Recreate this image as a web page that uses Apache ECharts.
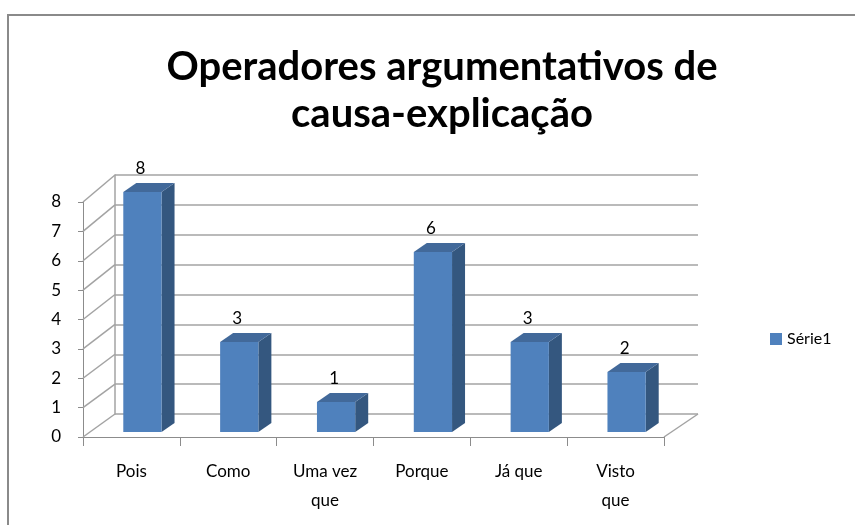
<!DOCTYPE html>
<html>
<head>
<meta charset="utf-8">
<script src="https://cdn.jsdelivr.net/npm/echarts@6/dist/echarts.min.js"></script>
<style>html,body{margin:0;padding:0;background:#fff;}#c{width:855px;height:525px;}</style>
</head>
<body>
<div id="c"></div>
<script>
const titleLines = ['Operadores argumentativos de', 'causa-explicação'];
const categories = ['Pois', 'Como', 'Uma vez\nque', 'Porque', 'Já que', 'Visto\nque'];
const values = [8, 3, 1, 6, 3, 2];
const seriesName = 'Série1';
const yMin = 0, yMax = 8, yStep = 1;

const FONT = 'Lato, "Open Sans", sans-serif';
const GRID_LINE = '#a3a3a3';
const AXIS_LINE = '#8c8c8c';
const FRONT = '#4F81BD', SIDE = '#34577F', TOP = '#42699A';
const DEPTH = [13, -9];

const chart = echarts.init(document.getElementById('c'), null, {renderer: 'canvas'});

const hiddenX = (gi) => ({type: 'category', gridIndex: gi, data: categories, show: false});
const hiddenY = (gi) => ({type: 'value', gridIndex: gi, min: yMin, max: yMax, interval: yStep, show: false});

const option = {
  animation: false,
  backgroundColor: '#fff',
  title: {
    text: titleLines.join('\n'),
    left: 437, top: 39, textAlign: 'center',
    textStyle: {fontFamily: FONT, fontWeight: 'bold', fontSize: 40, lineHeight: 47, color: '#000'}
  },
  legend: {
    data: [seriesName], left: 765, top: 326, icon: 'rect', itemWidth: 12, itemHeight: 12, itemGap: 5,
    textStyle: {fontFamily: FONT, fontSize: 16, color: '#000'}
  },
  grid: [
    {left: 83, top: 202, width: 581, height: 235},   // front plane (axes)
    {left: 115, top: 175, width: 583, height: 239},  // back wall
    {left: 94, top: 192, width: 581, height: 240}    // bar front plane
  ],
  xAxis: [
    {
      type: 'category', gridIndex: 0, data: categories,
      axisLine: {lineStyle: {color: AXIS_LINE, width: 1}},
      axisTick: {show: true, length: 9, lineStyle: {color: AXIS_LINE}},
      axisLabel: {fontFamily: FONT, fontSize: 17, color: '#000', margin: 20, lineHeight: 29, interval: 0}
    },
    {
      type: 'category', gridIndex: 1, data: categories,
      axisLine: {show: false}, axisTick: {show: false}, axisLabel: {show: false}
    },
    hiddenX(2)
  ],
  yAxis: [
    {
      type: 'value', gridIndex: 0, min: yMin, max: yMax, interval: yStep,
      axisLine: {show: true, lineStyle: {color: AXIS_LINE, width: 1}},
      axisTick: {show: true, length: 5, lineStyle: {color: AXIS_LINE}},
      splitLine: {show: false},
      axisLabel: {fontFamily: FONT, fontSize: 17, color: '#000', margin: 22}
    },
    {
      type: 'value', gridIndex: 1, min: yMin, max: yMax, interval: yStep,
      axisLine: {show: true, lineStyle: {color: GRID_LINE, width: 1.5}},
      axisTick: {show: false}, axisLabel: {show: false},
      splitLine: {show: true, lineStyle: {color: GRID_LINE, width: 1.5}}
    },
    hiddenY(2)
  ],
  series: [{
    name: seriesName,
    type: 'custom',
    xAxisIndex: 2, yAxisIndex: 2,
    itemStyle: {color: FRONT},
    data: values.map((v, i) => [i, v]),
    renderItem: function (params, api) {
      const i = api.value(0), v = api.value(1);
      const base = api.coord([i, 0]);
      const top = api.coord([i, v]);
      const band = api.size([1, 0])[0];
      const w = band * 0.395;
      const x0 = base[0] - w / 2, x1 = base[0] + w / 2;
      const yb = base[1], yt = top[1];
      const dx = DEPTH[0], dy = DEPTH[1];
      return {
        type: 'group',
        children: [
          {type: 'polygon', shape: {points: [[x1, yt], [x1 + dx, yt + dy], [x1 + dx, yb + dy], [x1, yb]]}, style: {fill: SIDE}},
          {type: 'polygon', shape: {points: [[x0, yt], [x0 + dx, yt + dy], [x1 + dx, yt + dy], [x1, yt]]}, style: {fill: TOP}},
          {type: 'rect', shape: {x: x0, y: yt, width: w, height: yb - yt}, style: {fill: FRONT}},
          {type: 'text', style: {text: String(v), x: base[0] - 2, y: yt + dy - 14, textAlign: 'center', textVerticalAlign: 'middle',
            font: '17px ' + FONT, fill: '#000'}}
        ]
      };
    }
  }]
};
chart.setOption(option);

// Side wall / floor edges connecting the front axes to the back wall, via the axes' own scales
const lines = [];
function leftEdge(gi, val) {
  const a = chart.convertToPixel({gridIndex: gi}, [0, val]);
  const b = chart.convertToPixel({gridIndex: gi}, [1, val]);
  return [a[0] - (b[0] - a[0]) / 2, a[1]];
}
function rightEdge(gi, val) {
  const n = categories.length;
  const a = chart.convertToPixel({gridIndex: gi}, [n - 1, val]);
  const b = chart.convertToPixel({gridIndex: gi}, [n - 2, val]);
  return [a[0] + (a[0] - b[0]) / 2, a[1]];
}
for (let v = yMin; v <= yMax; v += yStep) {
  const f = leftEdge(0, v), b = leftEdge(1, v);
  lines.push({type: 'line', shape: {x1: f[0], y1: f[1], x2: b[0], y2: b[1]}, style: {stroke: GRID_LINE, lineWidth: 1.5}, z: 1});
}
{
  const f = rightEdge(0, yMin), b = rightEdge(1, yMin);
  lines.push({type: 'line', shape: {x1: f[0], y1: f[1], x2: b[0], y2: b[1]}, style: {stroke: GRID_LINE, lineWidth: 1.5}, z: 1});
}
lines.push({type: 'rect', shape: {x: 8, y: 15, width: 1000, height: 1000}, style: {fill: 'none', stroke: '#8a8a8a', lineWidth: 2}, z: 0});
chart.setOption({graphic: lines});
</script>
</body>
</html>
